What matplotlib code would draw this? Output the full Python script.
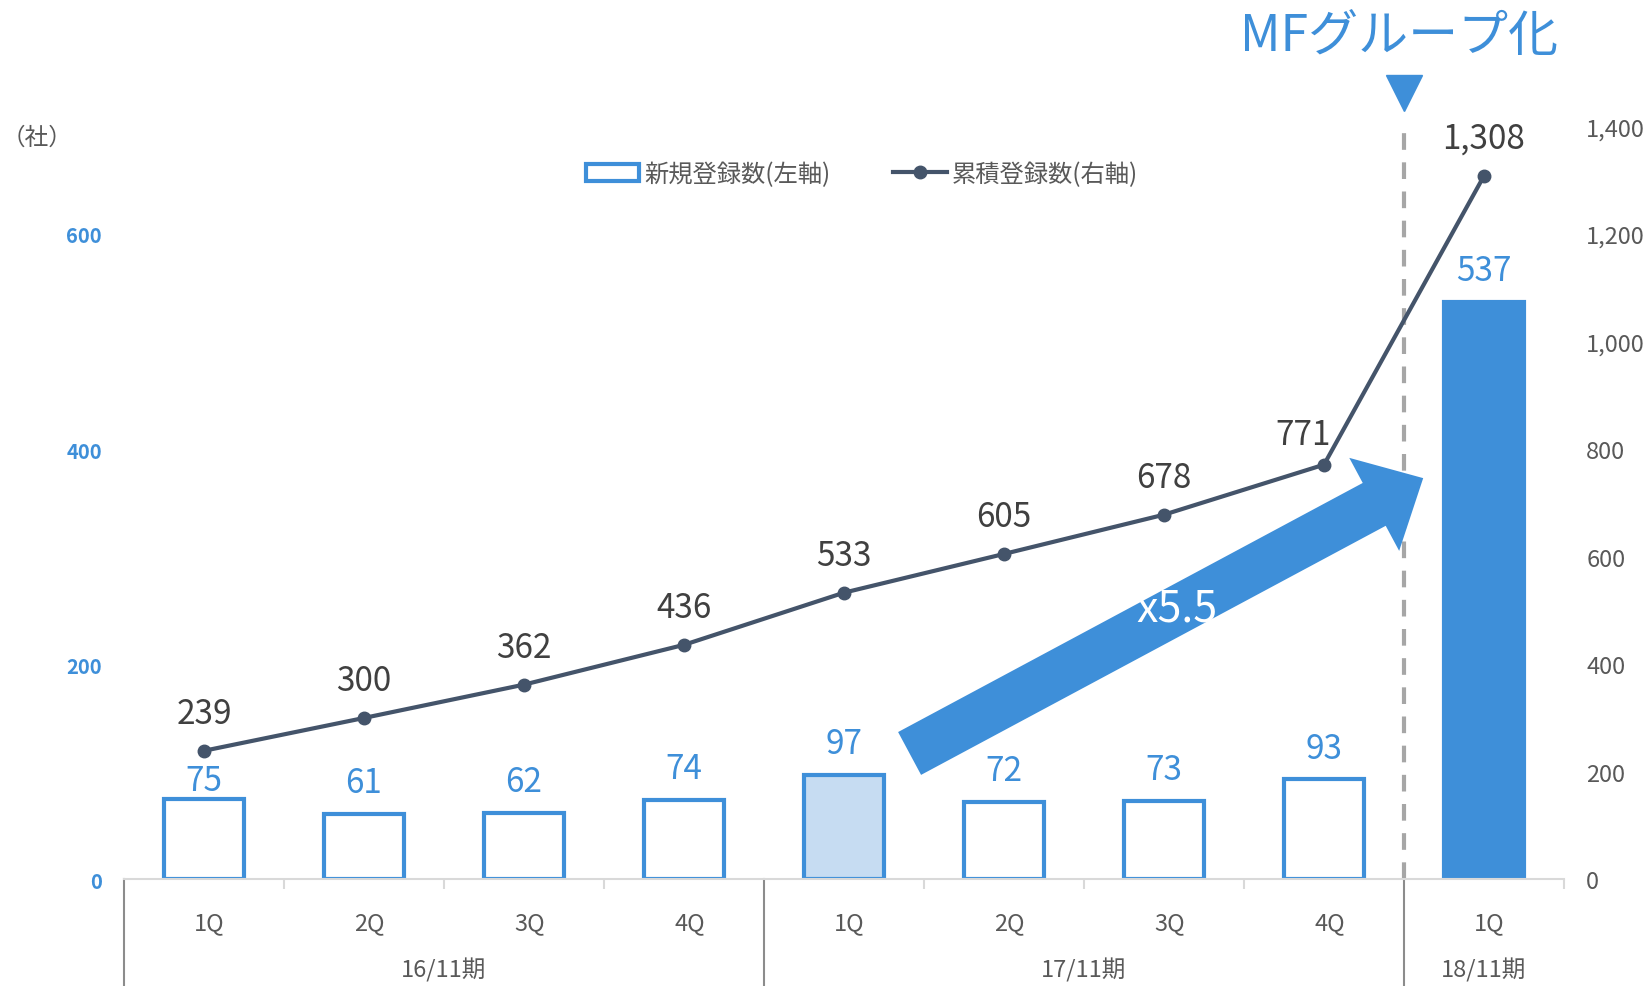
import numpy as np
import matplotlib
matplotlib.use('Agg')
import matplotlib.pyplot as plt
import matplotlib.transforms as mtransforms
from matplotlib.patches import Patch
from matplotlib.lines import Line2D

plt.rcParams['font.family'] = ['Noto Sans CJK JP', 'DejaVu Sans']

# data
quarters = ['1Q', '2Q', '3Q', '4Q', '1Q', '2Q', '3Q', '4Q', '1Q']
periods = ['16/11期', '17/11期', '18/11期']
period_centers = [1.5, 5.5, 8]
new_regs = [75, 61, 62, 74, 97, 72, 73, 93, 537]
cum_regs = [239, 300, 362, 436, 533, 605, 678, 771, 1308]
left_ticks = [0, 200, 400, 600]
right_ticks = [0, 200, 400, 600, 800, 1000, 1200, 1400]

# styles
BLUE = '#3E8FD9'
LINE = '#44546A'
GRAY = '#595959'
bar_fill = ['white'] * 4 + ['#C6DCF2'] + ['white'] * 3 + [BLUE]

fig = plt.figure(figsize=(16.51, 9.87), dpi=100)
ax = fig.add_axes([0.0751, 0.1081, 0.8722, 0.7628])
x = np.arange(len(quarters))

ax.bar(x, new_regs, width=0.5, color=bar_fill, edgecolor=BLUE, linewidth=3, zorder=2)
ax.set_xlim(-0.5, 8.5)
ax.set_ylim(0, 700)

ax2 = ax.twinx()
ax2.plot(x, cum_regs, color=LINE, lw=3, marker='o', ms=9, zorder=3)
ax2.set_ylim(0, 1400)

# spines / ticks
for a in (ax, ax2):
    for s in ('top', 'left', 'right', 'bottom'):
        a.spines[s].set_visible(False)
ax.spines['bottom'].set_visible(True)
ax.spines['bottom'].set_color('#D9D9D9')
ax.spines['bottom'].set_linewidth(1.5)

ax.set_xticks([])
ax.set_xticks([0.5, 1.5, 2.5, 4.5, 5.5, 6.5, 8.5], minor=True)
ax.tick_params(axis='x', which='minor', length=7, width=1.5, color='#D9D9D9', labelbottom=False)

ax.set_yticks(left_ticks)
ax.set_yticklabels([str(t) for t in left_ticks], color=BLUE, fontweight='bold', fontsize=14.5)
ax.tick_params(axis='y', length=0, pad=16)
ax2.set_yticks(right_ticks)
ax2.set_yticklabels(['{:,}'.format(t) for t in right_ticks], color=GRAY, fontsize=17)
ax2.tick_params(axis='y', length=0, pad=16)

# category axis
trans = mtransforms.blended_transform_factory(ax.transData, ax.transAxes)
for xi, q in zip(x, quarters):
    ax.annotate(q, (xi, 0), xycoords=trans, xytext=(4, -31), textcoords='offset points',
                ha='center', va='center', fontsize=17, color=GRAY, annotation_clip=False)
for xc, p in zip(period_centers, periods):
    ax.annotate(p, (xc, 0), xycoords=trans, xytext=(0, -65), textcoords='offset points',
                ha='center', va='center', fontsize=17, color=GRAY, annotation_clip=False)
for xv in [-0.5, 3.5, 7.5]:
    ax.plot([xv, xv], [0, -0.15], transform=trans, color='#8C8C8C', lw=1.5, clip_on=False)

# value labels
bar_dy = [13] + [22.5] * 8
for xi, v, dy in zip(x, new_regs, bar_dy):
    ax.annotate(str(v), (xi, v), xytext=(0, dy), textcoords='offset points',
                ha='center', va='center', fontsize=24, color=BLUE)
cum_off = [(0, 27)] * 7 + [(-15, 22), (0, 27)]
for xi, v, (dx, dy) in zip(x, cum_regs, cum_off):
    ax2.annotate('{:,}'.format(v), (xi, v), xytext=(dx, dy), textcoords='offset points',
                 ha='center', va='center', fontsize=24, color='#404040')

# group change marker
ax.axvline(7.5, color='#A6A6A6', lw=3, ls=(0, (4, 3)), zorder=1)
ax.plot([7.5], [731], marker='v', ms=26, color=BLUE, clip_on=False)
ax.text(7.47, 784, 'MFグループ化', ha='center', va='center', fontsize=36, color=BLUE, clip_on=False)

# growth arrow
ax.annotate('', xy=(7.62, 373), xytext=(4.41, 117),
            arrowprops=dict(arrowstyle='simple,head_length=4.0,head_width=7.6,tail_width=3.5',
                            mutation_scale=10, color=BLUE, lw=0, shrinkA=0, shrinkB=0),
            zorder=4)
ax.text(6.08, 252, 'x5.5', ha='center', va='center', fontsize=31, color='white', zorder=5)

fig.text(37 / 1651, 1 - 138 / 987, '（社）', ha='center', va='center', fontsize=17, color=GRAY)

handles = [Patch(facecolor='white', edgecolor=BLUE, linewidth=3),
           Line2D([], [], color=LINE, lw=3, marker='o', ms=9)]
fig.legend(handles, ['新規登録数(左軸)', '累積登録数(右軸)'], loc='center',
           bbox_to_anchor=(0.522, 0.823), ncol=2, frameon=False, fontsize=17.5,
           labelcolor=GRAY, handlelength=2.2, handleheight=0.7, handletextpad=0.2,
           columnspacing=2.6)

fig.savefig('out.png', dpi=100)
